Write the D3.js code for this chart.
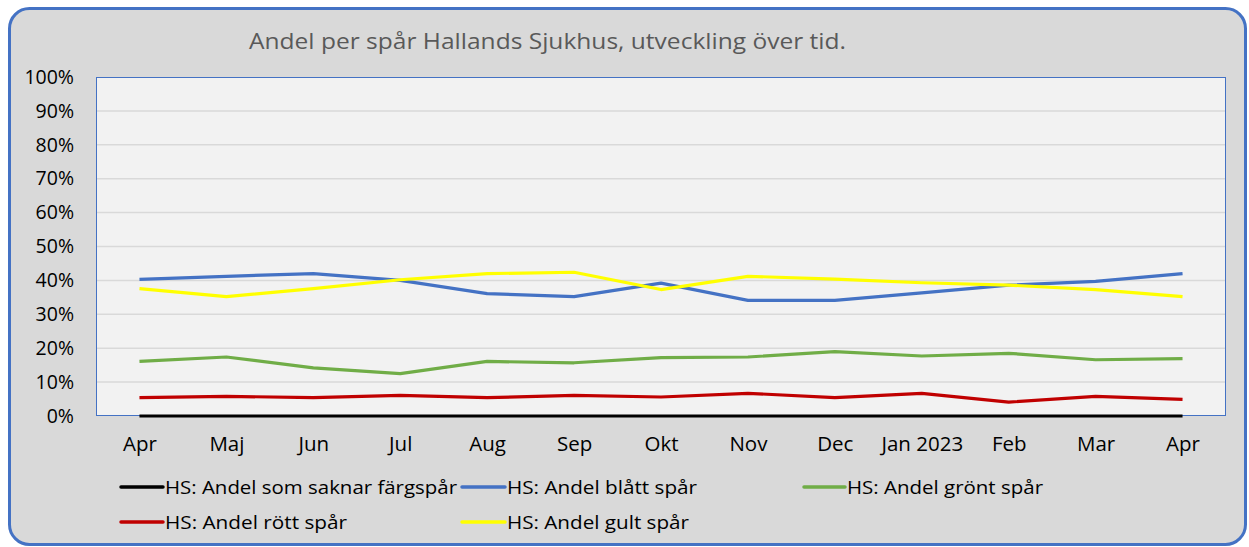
<!DOCTYPE html>
<html><head><meta charset="utf-8">
<script src="https://cdn.jsdelivr.net/npm/d3@7"></script>
<style>body{margin:0;background:#fff}svg{display:block}text{font-family:"Open Sans","Noto Sans",sans-serif}</style>
</head><body>
<script>
const months = ["Apr","Maj","Jun","Jul","Aug","Sep","Okt","Nov","Dec","Jan 2023","Feb","Mar","Apr"];
const saknar = [0,0,0,0,0,0,0,0,0,0,0,0,0];
const blatt  = [40.3,41.2,42.0,40.0,36.1,35.2,39.2,34.1,34.1,36.3,38.6,39.7,42.0];
const gront  = [16.1,17.4,14.2,12.5,16.1,15.7,17.2,17.4,19.0,17.7,18.5,16.6,16.9];
const rott   = [5.4,5.8,5.4,6.1,5.4,6.1,5.6,6.7,5.4,6.7,4.1,5.8,4.9];
const gult   = [37.6,35.2,37.6,40.2,42.0,42.4,37.3,41.2,40.4,39.3,38.6,37.3,35.2];
const yTicks = [0,10,20,30,40,50,60,70,80,90,100];
const seriesNames = ["HS: Andel som saknar färgspår","HS: Andel blått spår","HS: Andel grönt spår","HS: Andel rött spår","HS: Andel gult spår"];
const seriesColors = ["#000000","#4472C4","#70AD47","#C00000","#FFFF00"];
const titleText = "Andel per spår Hallands Sjukhus, utveckling över tid.";

const W=1249,H=547;
const svg=d3.select("body").append("svg").attr("width",W).attr("height",H);
svg.append("rect").attr("x",9.5).attr("y",8.5).attr("width",1236).attr("height",536).attr("rx",20)
  .attr("fill","#d9d9d9").attr("stroke","#4472C4").attr("stroke-width",3);

const L=96,R=1226,T=77,B=416;
const x=d3.scalePoint().domain(d3.range(months.length)).range([L,R]).padding(0.5);
const y=d3.scaleLinear().domain([0,100]).range([B,T]);

svg.append("rect").attr("x",L).attr("y",T).attr("width",R-L).attr("height",B-T).attr("fill","#f2f2f2");
svg.append("g").selectAll("line").data(yTicks.slice(1)).join("line")
  .attr("x1",L).attr("x2",R).attr("y1",d=>y(d)).attr("y2",d=>y(d)).attr("stroke","#d9d9d9").attr("stroke-width",1.5);
svg.append("rect").attr("x",L+0.5).attr("y",T+0.5).attr("width",R-L-1).attr("height",B-T-1).attr("fill","none").attr("stroke","#4472C4").attr("stroke-width",1);

// y axis
const yAxis=d3.axisLeft(y).tickValues(yTicks).tickFormat(d=>d+"%").tickSize(0).tickPadding(0);
const ga=svg.append("g").attr("transform","translate(74,0)").call(yAxis);
ga.select(".domain").remove();
ga.selectAll("text").attr("font-size",19.5).attr("fill","#000").attr("font-family","Open Sans");

// x axis
const xAxis=d3.axisBottom(x).tickFormat(i=>months[i]).tickSize(0).tickPadding(0);
const gx=svg.append("g").attr("transform","translate(0,436)").call(xAxis);
gx.select(".domain").remove();
gx.selectAll("text").attr("font-size",20.5).attr("fill","#000").attr("font-family","Open Sans").attr("dy","0.71em");

const data=[saknar,blatt,gront,rott,gult];
const line=d3.line().x((d,i)=>x(i)).y(d=>y(d));
const order=[0,3,2,1,4];
order.forEach(k=>{
  svg.append("path").datum(data[k]).attr("d",line).attr("fill","none").attr("stroke",seriesColors[k]).attr("stroke-width",3.2).attr("stroke-linejoin","round");
});

// title
svg.append("text").attr("x",249).attr("y",49).text(titleText).attr("font-size",21).attr("fill","#595959")
  .attr("textLength",597).attr("lengthAdjust","spacingAndGlyphs");

// legend
const legPos=[{lx:121,tx:165,yy:487,w:292},{lx:462,tx:507,yy:487,w:190},{lx:804,tx:847,yy:487,w:196},{lx:121,tx:165,yy:522,w:182},{lx:462,tx:507,yy:522,w:182}];
legPos.forEach((p,k)=>{
  svg.append("line").attr("x1",p.lx).attr("x2",p.tx-2).attr("y1",p.yy).attr("y2",p.yy).attr("stroke",seriesColors[k]).attr("stroke-width",3.5).attr("stroke-linecap","round");
  svg.append("text").attr("x",p.tx).attr("y",p.yy).attr("dy","0.35em").text(seriesNames[k]).attr("font-size",19).attr("fill","#000")
    .attr("textLength",p.w).attr("lengthAdjust","spacingAndGlyphs");
});
</script>
</body></html>
